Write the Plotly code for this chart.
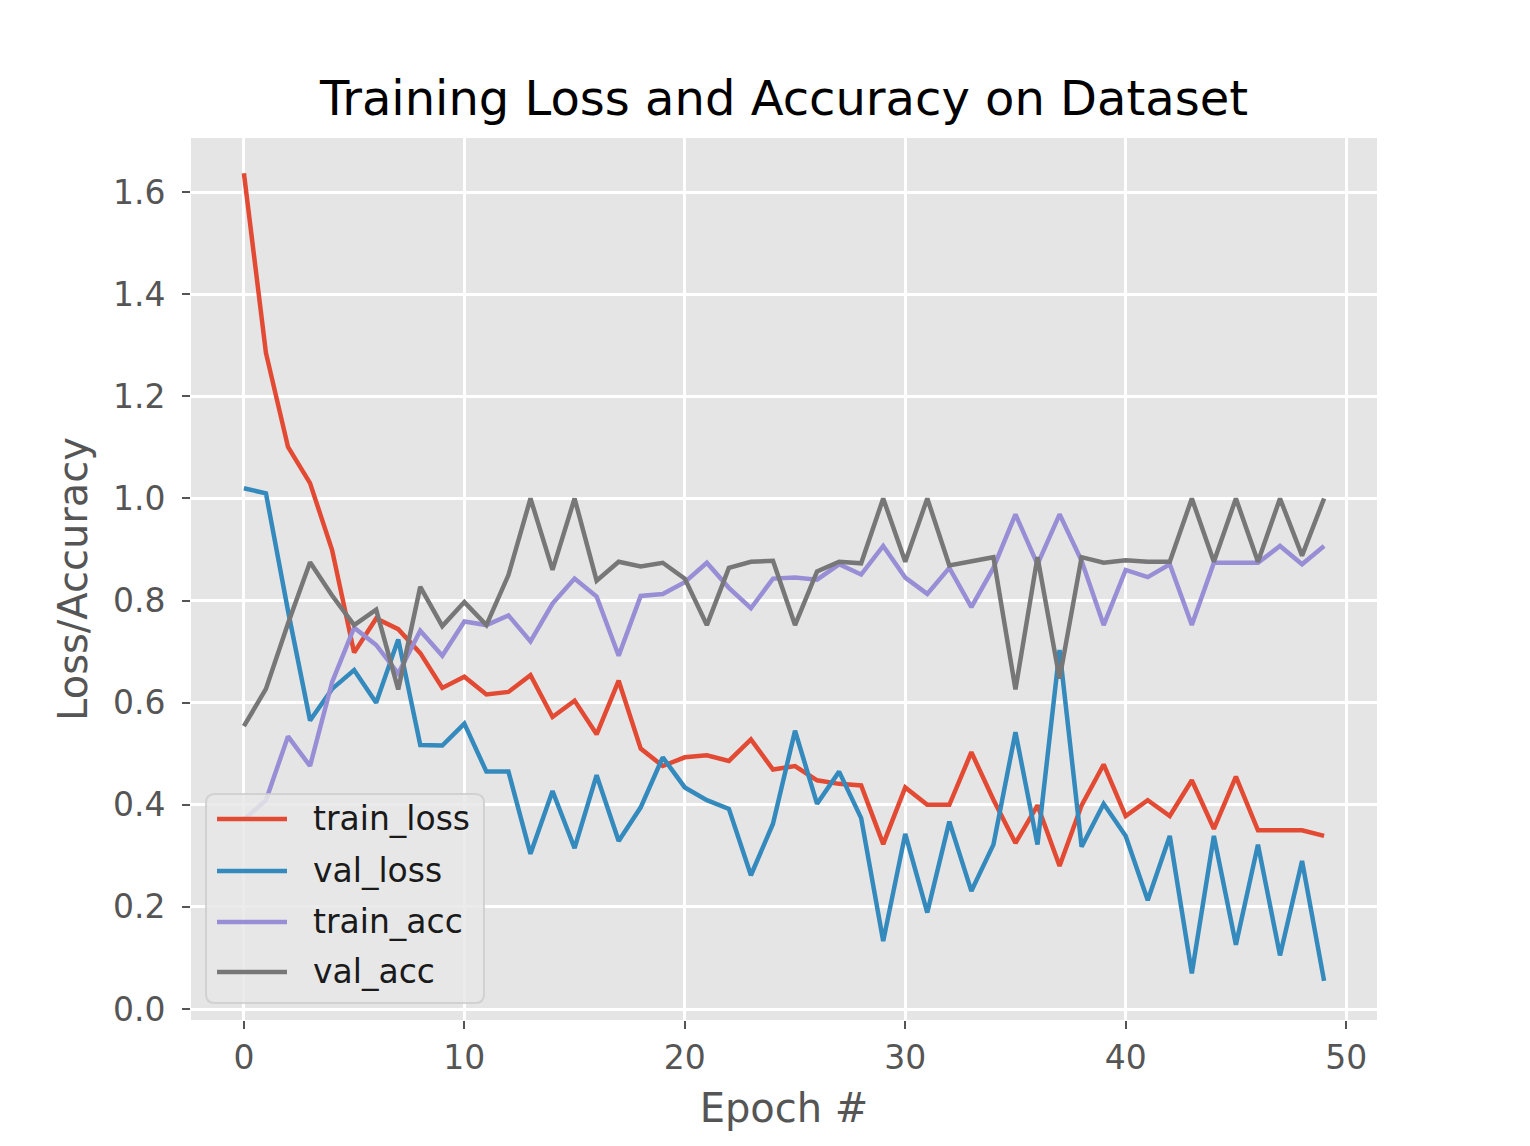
import plotly.graph_objects as go

epochs = list(range(50))

train_loss = [1.637, 1.285, 1.101, 1.030, 0.899, 0.698, 0.765, 0.744, 0.697, 0.629,
              0.651, 0.616, 0.621, 0.654, 0.572, 0.604, 0.538, 0.643, 0.510, 0.476,
              0.493, 0.497, 0.486, 0.528, 0.469, 0.476, 0.448, 0.441, 0.438, 0.323,
              0.434, 0.400, 0.400, 0.503, 0.410, 0.325, 0.399, 0.280, 0.399, 0.479,
              0.378, 0.409, 0.378, 0.448, 0.353, 0.455, 0.350, 0.351, 0.350, 0.339]

val_loss = [1.020, 1.010, 0.780, 0.565, 0.627, 0.664, 0.600, 0.724, 0.517, 0.516,
            0.559, 0.465, 0.465, 0.304, 0.427, 0.315, 0.458, 0.329, 0.395, 0.493,
            0.434, 0.409, 0.392, 0.262, 0.363, 0.545, 0.402, 0.465, 0.374, 0.133,
            0.343, 0.189, 0.367, 0.231, 0.322, 0.542, 0.322, 0.703, 0.318, 0.402,
            0.339, 0.213, 0.339, 0.070, 0.339, 0.126, 0.322, 0.105, 0.290, 0.055]

train_acc = [0.371, 0.409, 0.534, 0.476, 0.640, 0.747, 0.713, 0.657, 0.741, 0.692,
             0.759, 0.752, 0.771, 0.720, 0.794, 0.843, 0.808, 0.692, 0.809, 0.813,
             0.836, 0.874, 0.825, 0.785, 0.843, 0.845, 0.841, 0.871, 0.851, 0.907,
             0.845, 0.813, 0.864, 0.787, 0.864, 0.969, 0.871, 0.969, 0.878, 0.752,
             0.860, 0.846, 0.871, 0.752, 0.874, 0.874, 0.874, 0.907, 0.871, 0.907]

val_acc = [0.554, 0.627, 0.755, 0.875, 0.810, 0.752, 0.782, 0.626, 0.827, 0.750,
           0.797, 0.752, 0.850, 1.000, 0.860, 1.000, 0.839, 0.876, 0.867, 0.874,
           0.843, 0.752, 0.864, 0.876, 0.878, 0.752, 0.857, 0.876, 0.873, 1.000,
           0.876, 1.000, 0.869, 0.876, 0.885, 0.626, 0.885, 0.647, 0.885, 0.874,
           0.879, 0.876, 0.876, 1.000, 0.876, 1.000, 0.876, 1.000, 0.888, 1.000]

series_names = ["train_loss", "val_loss", "train_acc", "val_acc"]
series_colors = ["#E24A33", "#348ABD", "#988ED5", "#777777"]
series_values = [train_loss, val_loss, train_acc, val_acc]

x_ticks = [0, 10, 20, 30, 40, 50]
y_ticks = [0.0, 0.2, 0.4, 0.6, 0.8, 1.0, 1.2, 1.4, 1.6]

W, H = 1530, 1146
ML, MR, MT, MB = 191, 153, 138, 126
PW, PH = W - ML - MR, H - MT - MB


def px_x(px):
    return (px - ML) / PW


def px_y(py):
    return (H - MB - py) / PH


fig = go.Figure()
for name, color, vals in zip(series_names, series_colors, series_values):
    fig.add_trace(go.Scatter(x=epochs, y=vals, mode="lines", name=name,
                             line=dict(color=color, width=4.5), showlegend=False))

font_family = "DejaVu Sans"

# legend (matplotlib-style, drawn in paper coordinates)
shapes = []
annotations = []
bx0, bx1, by0, by1, r = 206, 484, 794, 1003, 9
rx, ry = r / PW, r / PH
X0, X1, Y0, Y1 = px_x(bx0), px_x(bx1), px_y(by1), px_y(by0)
path = (f"M {X0+rx},{Y0} L {X1-rx},{Y0} Q {X1},{Y0} {X1},{Y0+ry} "
        f"L {X1},{Y1-ry} Q {X1},{Y1} {X1-rx},{Y1} L {X0+rx},{Y1} "
        f"Q {X0},{Y1} {X0},{Y1-ry} L {X0},{Y0+ry} Q {X0},{Y0} {X0+rx},{Y0} Z")
shapes.append(dict(type="path", xref="paper", yref="paper", path=path,
                   fillcolor="rgba(231,231,231,0.85)",
                   line=dict(color="rgba(204,204,204,0.8)", width=2), layer="above"))
row_y = [819, 871, 922, 972]
for name, color, ry_px in zip(series_names, series_colors, row_y):
    shapes.append(dict(type="line", xref="paper", yref="paper",
                       x0=px_x(217), x1=px_x(287), y0=px_y(ry_px), y1=px_y(ry_px),
                       line=dict(color=color, width=4.5), layer="above"))
    annotations.append(dict(text=name, xref="paper", yref="paper",
                            x=px_x(311), y=px_y(ry_px - 1), xanchor="left", yanchor="middle",
                            showarrow=False,
                            font=dict(family=font_family, size=33, color="#1a1a1a")))

fig.update_layout(
    width=W, height=H,
    margin=dict(l=ML, r=MR, t=MT, b=MB),
    paper_bgcolor="white",
    plot_bgcolor="#E5E5E5",
    font=dict(family=font_family, size=33, color="#555555"),
    title=dict(text="Training Loss and Accuracy on Dataset",
               font=dict(family=font_family, size=48, color="black"),
               x=0.5, xref="paper", xanchor="center",
               y=1 - 98 / H, yref="container", yanchor="middle"),
    showlegend=False,
    shapes=shapes,
    annotations=annotations,
    xaxis=dict(range=[-2.4, 51.4], tickvals=x_ticks, ticktext=[str(t) for t in x_ticks],
               showgrid=True, gridcolor="white", gridwidth=2.5, zeroline=False,
               ticks="outside", ticklen=8, tickwidth=2, tickcolor="#555555",
               showline=False,
               title=dict(text="Epoch #", font=dict(family=font_family, size=40, color="#555555"),
                          standoff=18)),
    yaxis=dict(range=[-0.0215, 1.706], tickvals=y_ticks, ticktext=[f"{t:.1f}" for t in y_ticks],
               showgrid=True, gridcolor="white", gridwidth=2.5, zeroline=False,
               ticks="outside", ticklen=8, tickwidth=2, tickcolor="#555555",
               ticklabelstandoff=10,
               showline=False,
               title=dict(text="Loss/Accuracy", font=dict(family=font_family, size=40, color="#555555"),
                          standoff=12)),
)

fig.write_html("out.html")
